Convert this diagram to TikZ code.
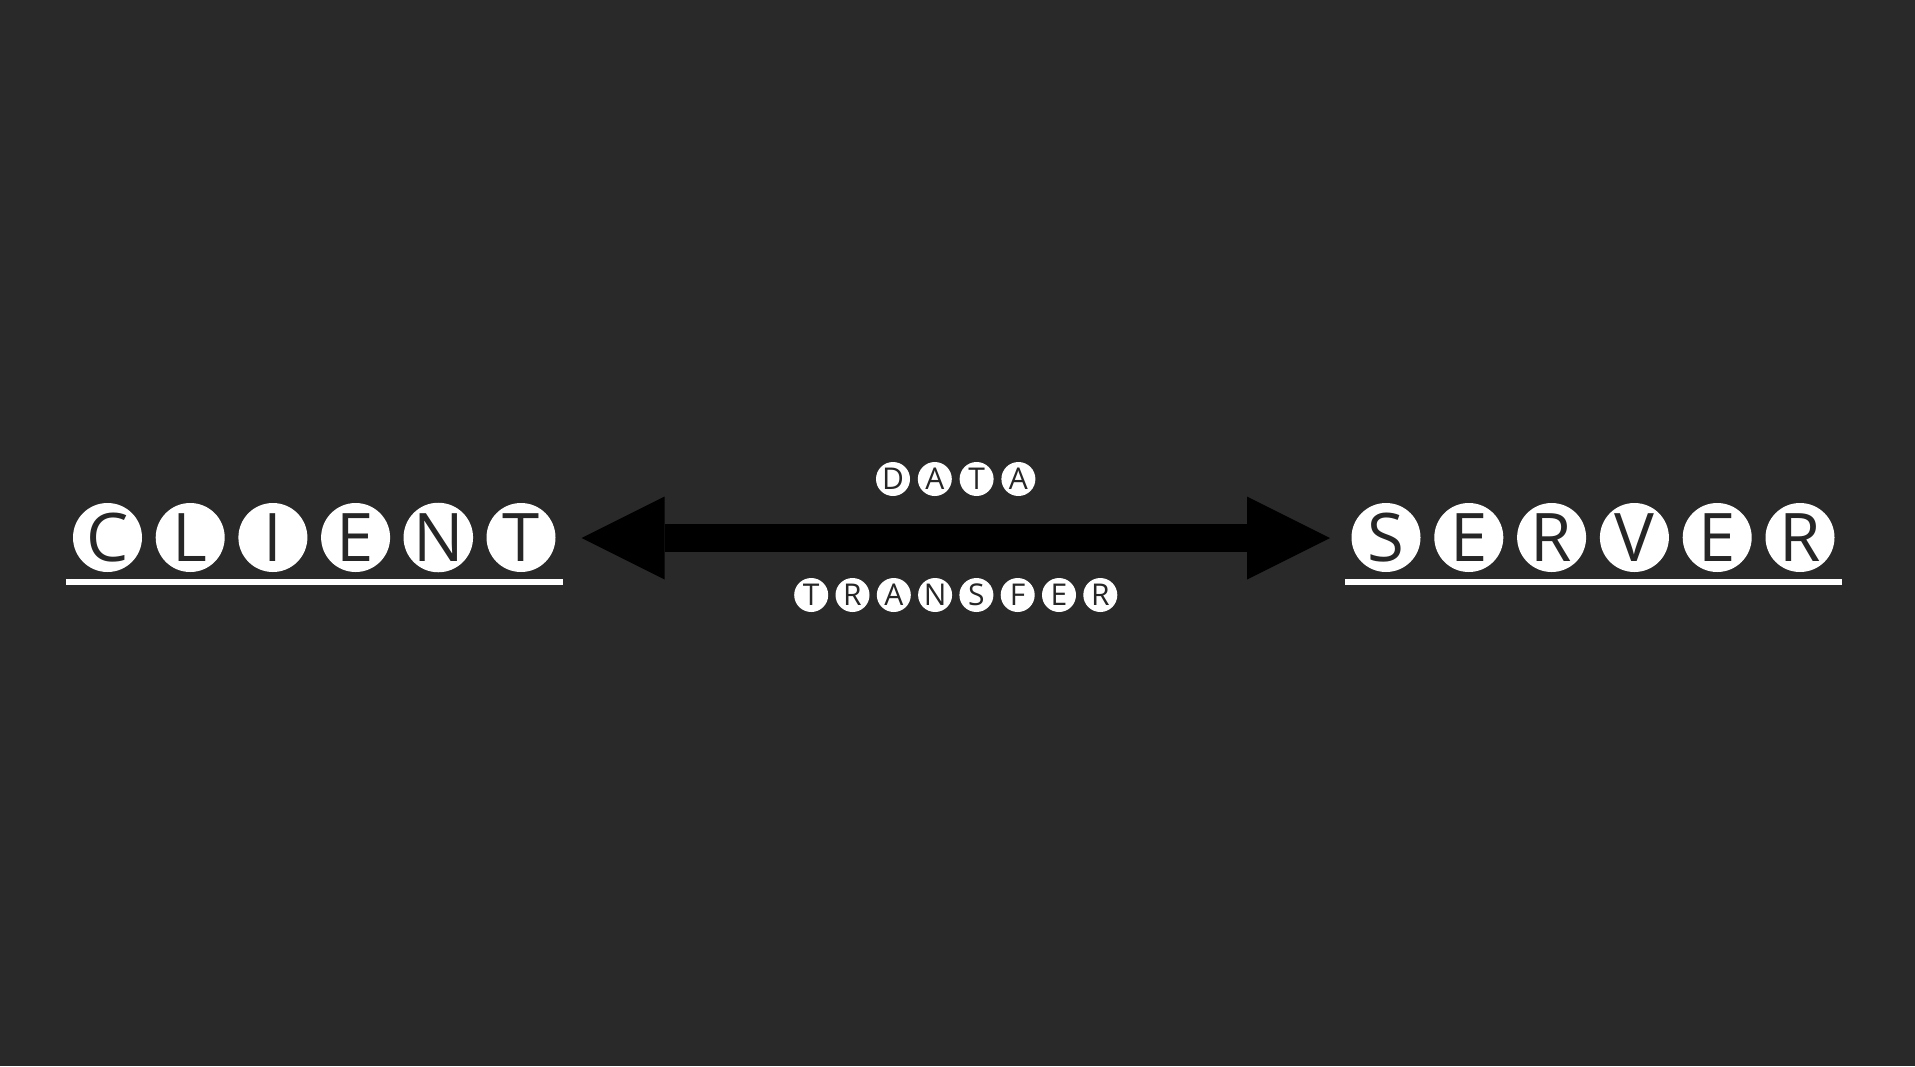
\documentclass[tikz,border=0pt]{standalone}
\usepackage{fontspec}
\setmainfont{Open Sans}
\usetikzlibrary{arrows.meta}
\definecolor{bg}{HTML}{292929}
\definecolor{ink}{HTML}{262626}
\tikzset{
  bigletter/.style={circle, fill=white, minimum size=69pt, inner sep=0pt,
    text=ink, font=\fontsize{67}{70}\selectfont},
  smallletter/.style={circle, fill=white, minimum size=34pt, inner sep=0pt,
    text=ink, font=\fontsize{30}{32}\selectfont},
  underbar/.style={draw=white, line width=5.5pt},
  bigarrow/.style={draw=black, line width=28pt,
    {Triangle[length=83pt,width=83pt,line width=0pt]}-{Triangle[length=83pt,width=83pt,line width=0pt]}}
}
\begin{document}
\begin{tikzpicture}[x=1pt,y=-1pt]
\fill[bg] (0,0) rectangle (1915,1066);
\useasboundingbox (0,0) rectangle (1915,1066);
% CLIENT
\foreach \l [count=\i from 0] in {C,L,I,E,N,T}
  \node[bigletter] (c\i) at ({107.5+82.7*\i},537.5) {\l};
% SERVER
\foreach \l [count=\i from 0] in {S,E,R,V,E,R}
  \node[bigletter] (s\i) at ({1386+82.8*\i},537.5) {\l};
% underlines
\coordinate (cu1) at (66,582);
\coordinate (cu2) at (563,582);
\coordinate (su1) at (1345,582);
\coordinate (su2) at (1842,582);
\draw[underbar] (cu1) -- (cu2);
\draw[underbar] (su1) -- (su2);
% DATA
\foreach \l [count=\i from 0] in {D,A,T,A}
  \node[smallletter] (d\i) at ({893+41.8*\i},479) {\l};
% TRANSFER
\foreach \l [count=\i from 0] in {T,R,A,N,S,F,E,R}
  \node[smallletter] (t\i) at ({811.2+41.3*\i},595) {\l};
% arrow
\coordinate (aL) at (581.7,538);
\coordinate (aR) at (1330,538);
\draw[bigarrow] (aL) -- (aR);
\end{tikzpicture}
\end{document}
